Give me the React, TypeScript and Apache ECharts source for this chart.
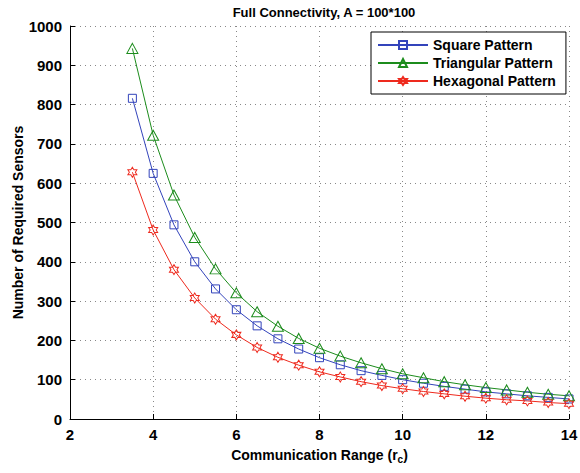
import React, { useEffect, useRef } from "react";
import * as echarts from "echarts";

const ranges = [3.5, 4, 4.5, 5, 5.5, 6, 6.5, 7, 7.5, 8, 8.5, 9, 9.5, 10, 10.5, 11, 11.5, 12, 12.5, 13, 13.5, 14];
const squareValues = [816, 625, 494, 400, 331, 278, 237, 204, 178, 156, 138, 123, 111, 100, 91, 83, 76, 69, 64, 59, 55, 51];
const triangularValues = [943, 722, 570, 462, 382, 321, 273, 236, 205, 180, 160, 143, 128, 115, 105, 95, 87, 80, 74, 68, 63, 59];
const hexagonalValues = [628, 481, 380, 308, 254, 214, 182, 157, 137, 120, 107, 95, 85, 77, 70, 64, 58, 53, 49, 46, 42, 39];
const seriesNames = ["Square Pattern", "Triangular Pattern", "Hexagonal Pattern"];

const hexagram =
  "path://M0,-1 L0.289,-0.5 L0.866,-0.5 L0.577,0 L0.866,0.5 L0.289,0.5 L0,1 L-0.289,0.5 L-0.866,0.5 L-0.577,0 L-0.866,-0.5 L-0.289,-0.5 Z";

const FONT = "'Liberation Sans', Arial, sans-serif";

export default function App() {
  const ref = useRef<HTMLDivElement>(null);
  useEffect(() => {
    if (!ref.current) return;
    const chart = echarts.init(ref.current, null, { renderer: "svg" });
    const pair = (vals: number[]) => ranges.map((r, i) => [r, vals[i]]);
    const mk = (name: string, vals: number[], color: string, symbol: string, size: number | number[]) => ({
      name,
      type: "line",
      data: pair(vals),
      symbol,
      symbolSize: size,
      showAllSymbol: true,
      lineStyle: { color, width: 1 },
      itemStyle: { color: "rgba(0,0,0,0)", borderColor: color, borderWidth: 1 },
      color,
    });
    chart.setOption({
      animation: false,
      backgroundColor: "#fff",
      textStyle: { fontFamily: FONT },
      title: {
        text: "Full Connectivity, A = 100*100",
        left: 319,
        top: 1,
        textAlign: "center",
        textStyle: { fontSize: 13, fontWeight: "bold", color: "#000", fontFamily: FONT },
      },
      legend: {
        orient: "vertical",
        left: 371,
        top: 32,
        width: 191,
        itemWidth: 50,
        itemHeight: 10,
        itemGap: 4,
        padding: [6, 10, 6, 6],
        borderColor: "#000",
        borderWidth: 1,
        backgroundColor: "#fff",
        textStyle: { fontSize: 14, fontWeight: "bold", color: "#000", fontFamily: FONT },
        data: seriesNames,
      },
      grid: { left: 70, right: 11, top: 26, bottom: 54, outerBoundsMode: "none", containLabel: false },
      xAxis: {
        type: "value",
        min: 2,
        max: 14,
        interval: 2,
        name: "{a|Communication Range (r}{s|c}{a|)}",
        nameLocation: "middle",
        nameGap: 27,
        nameMoveOverlap: false,
        nameTextStyle: {
          rich: {
            a: { fontSize: 14, fontWeight: "bold", color: "#000", fontFamily: FONT },
            s: { fontSize: 10, fontWeight: "bold", color: "#000", fontFamily: FONT, padding: [8, 0, 0, 0] },
          },
        },
        axisLine: { lineStyle: { color: "#000", width: 1 } },
        axisTick: { inside: true, length: 5, lineStyle: { color: "#000" } },
        axisLabel: { fontSize: 15, fontWeight: "bold", color: "#000", margin: 8, fontFamily: FONT, formatter: (v: number) => String(v) },
        splitLine: { show: true, lineStyle: { color: "#888", type: [1, 4], width: 1 } },
      },
      yAxis: {
        type: "value",
        min: 0,
        max: 1000,
        interval: 100,
        name: "Number of Required Sensors",
        nameLocation: "middle",
        nameGap: 45,
        nameMoveOverlap: false,
        nameTextStyle: { fontSize: 14, fontWeight: "bold", color: "#000", fontFamily: FONT },
        axisLine: { show: true, lineStyle: { color: "#000", width: 1 } },
        axisTick: { show: true, inside: true, length: 5, lineStyle: { color: "#000" } },
        axisLabel: { fontSize: 15, fontWeight: "bold", color: "#000", margin: 8, fontFamily: FONT, formatter: (v: number) => String(v) },
        splitLine: { show: true, lineStyle: { color: "#888", type: [1, 4], width: 1 } },
      },
      series: [
        mk(seriesNames[0], squareValues, "#3344bb", "rect", 8),
        mk(seriesNames[1], triangularValues, "#1c8c1c", "triangle", [11, 10]),
        mk(seriesNames[2], hexagonalValues, "#ee2a1e", hexagram, [9, 10]),
      ],
    });
    return () => chart.dispose();
  }, []);
  return <div ref={ref} style={{ width: 580, height: 473, position: "absolute", left: 0, top: 0 }} />;
}
